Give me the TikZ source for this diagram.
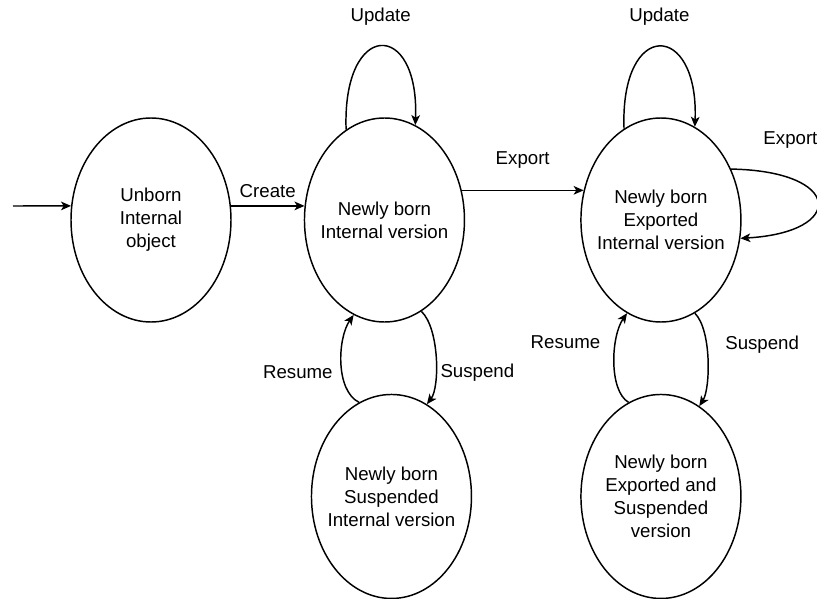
\documentclass[tikz,border=0pt]{standalone}
\usepackage{fontspec}
\setmainfont{Liberation Sans}
\usepackage{tikz}
\usetikzlibrary{shapes.geometric, arrows.meta, positioning}

\begin{document}
\begin{tikzpicture}[
    x=0.75pt, y=0.75pt,
    state/.style={draw, ellipse, line width=1.1pt, minimum width=120pt, minimum height=153pt, inner xsep=-6pt, inner ysep=0pt, align=center, font=\fontsize{14}{17.25}\selectfont},
    lbl/.style={inner sep=0pt, font=\fontsize{14}{17.25}\selectfont},
    arrow/.style={-{Stealth[length=7.5pt, width=6.5pt, inset=2pt]}, line width=1.1pt}
]
    \useasboundingbox (0,0) rectangle (817,-599);

    % States
    \node[state] (unborn) at (151,-220) {Unborn\\Internal\\object};
    \node[state, right=54pt of unborn] (newint) {Newly born\\Internal version};
    \node[state, right=86.25pt of newint] (newexp) {Newly born\\Exported\\Internal version};
    \node[state, below=53.25pt of newint, xshift=5.25pt] (newsusp) {Newly born\\Suspended\\Internal version};
    \node[state, below=53.25pt of newexp] (newexpsusp) {Newly born\\Exported and\\Suspended\\version};
    \coordinate (entry) at (13,-206);

    % Transitions
    \draw[arrow] (entry) -- (unborn.170);
    \draw[arrow] (unborn.10) -- (newint.170) node[lbl, midway, yshift=11.25pt] (lcreate) {Create};
    \draw[arrow] (newint.21) -- (newexp.159) node[lbl, midway, yshift=22.5pt] (lexport) {Export};
    \draw[arrow] (newint.113) .. controls +(-4,110) and +(4,106) .. (newint.72) node[lbl, midway, yshift=22.5pt] (lupdate) {Update};
    \draw[arrow] (newexp.112) .. controls +(-4,110) and +(4,106) .. (newexp.70) node[lbl, midway, yshift=22.5pt] (lupdateexp) {Update};
    \draw[arrow] (newexp.36) .. controls +(112,-2) and +(106,6) .. (newexp.347) node[lbl, midway, xshift=-20.25pt, yshift=46.5pt] (lexportexp) {Export};

    % Suspend and resume
    \draw[arrow] (newsusp.109) .. controls +(-24,12) and +(-16,-23) .. (newint.252) node[lbl, midway, left=6pt, yshift=-7pt] (lresume) {Resume};
    \draw[arrow] (newint.292) .. controls +(18,-17) and +(13,17) .. (newsusp.69) node[lbl, midway, right=3pt, yshift=-11pt] (lsuspend) {Suspend};
    \draw[arrow] (newexpsusp.109) .. controls +(-20,12) and +(-16,-23) .. (newexp.250) node[lbl, midway, left=10pt, yshift=14.7pt] (lresumeexp) {Resume};
    \draw[arrow] (newexp.290) .. controls +(17,-17) and +(11,17) .. (newexpsusp.67) node[lbl, midway, right=12.75pt, yshift=10.9pt] (lsuspendexp) {Suspend};
\end{tikzpicture}
\end{document}
